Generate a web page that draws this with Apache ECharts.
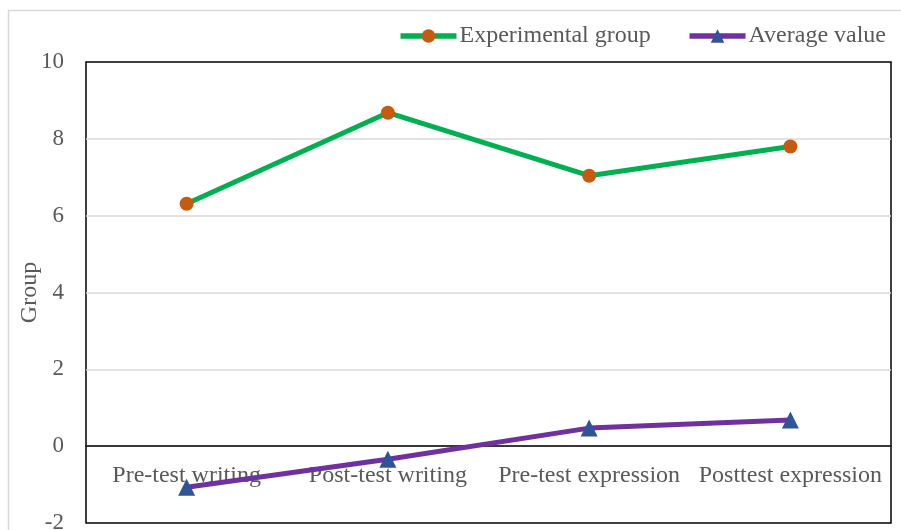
<!DOCTYPE html>
<html>
<head>
<meta charset="utf-8">
<script src="https://cdn.jsdelivr.net/npm/echarts@6/dist/echarts.min.js"></script>
<style>
  html, body { margin: 0; padding: 0; background: #ffffff; }
  #chart { width: 901px; height: 530px; }
</style>
</head>
<body>
<div id="chart"></div>
<script>
// Categories along the x axis
const categories = ['Pre-test writing', 'Post-test writing', 'Pre-test expression', 'Posttest expression'];
// Series values
const experimentalGroup = [6.31, 8.68, 7.04, 7.80];
const averageValue = [-1.07, -0.34, 0.47, 0.68];
// Value axis ticks
const yMin = -2;
const yMax = 10;
const yStep = 2;

const serif = '"Liberation Serif", "Times New Roman", serif';
const textGray = '#595959';

const chart = echarts.init(document.getElementById('chart'), null, { renderer: 'canvas' });

chart.setOption({
  backgroundColor: '#ffffff',
  animation: false,
  graphic: [{
    type: 'rect',
    shape: { x: 8.5, y: 10.5, width: 1200, height: 1200 },
    style: { fill: 'none', stroke: '#d9d9d9', lineWidth: 1.5 },
    silent: true,
    z: -10
  }],
  legend: {
    right: 15,
    top: 24,
    padding: 0,
    itemWidth: 56,
    itemHeight: 17,
    itemGap: 36,
    lineStyle: { width: 5.5 },
    textStyle: { fontFamily: serif, fontSize: 24, color: textGray, padding: [0, 0, 0, -2] },
    data: ['Experimental group', 'Average value']
  },
  grid: {
    left: 86,
    right: 10,
    top: 62,
    bottom: 7,
    show: true,
    borderColor: '#000000',
    borderWidth: 1.5,
    containLabel: false,
    outerBoundsMode: 'none'
  },
  xAxis: {
    type: 'category',
    data: categories,
    boundaryGap: true,
    axisLine: { onZero: true, lineStyle: { color: '#000000', width: 1.5 } },
    axisTick: { show: false },
    axisLabel: {
      fontFamily: serif,
      fontSize: 24,
      color: textGray,
      // labels sit just under the zero line
      margin: -59,
      interval: 0
    },
    splitLine: { show: false }
  },
  yAxis: {
    type: 'value',
    min: yMin,
    max: yMax,
    interval: yStep,
    name: 'Group',
    nameLocation: 'middle',
    nameRotate: 90,
    nameGap: 44,
    nameMoveOverlap: false,
    nameTextStyle: { fontFamily: serif, fontSize: 24, color: textGray },
    axisLine: { show: false },
    axisTick: { show: false },
    axisLabel: { fontFamily: serif, fontSize: 23, color: textGray, margin: 22 },
    splitLine: {
      show: true,
      showMinLine: false,
      showMaxLine: false,
      lineStyle: { color: '#d9d9d9', width: 1.5 }
    }
  },
  series: [
    {
      name: 'Experimental group',
      type: 'line',
      data: experimentalGroup,
      symbol: 'circle',
      symbolSize: 14,
      lineStyle: { color: '#00b050', width: 5 },
      itemStyle: { color: '#c55a11', borderWidth: 0 },
      z: 3
    },
    {
      name: 'Average value',
      type: 'line',
      data: averageValue,
      symbol: 'triangle',
      symbolSize: 17,
      lineStyle: { color: '#7030a0', width: 5 },
      itemStyle: { color: '#2f5597', borderWidth: 0 },
      z: 3
    }
  ]
});
</script>
</body>
</html>
